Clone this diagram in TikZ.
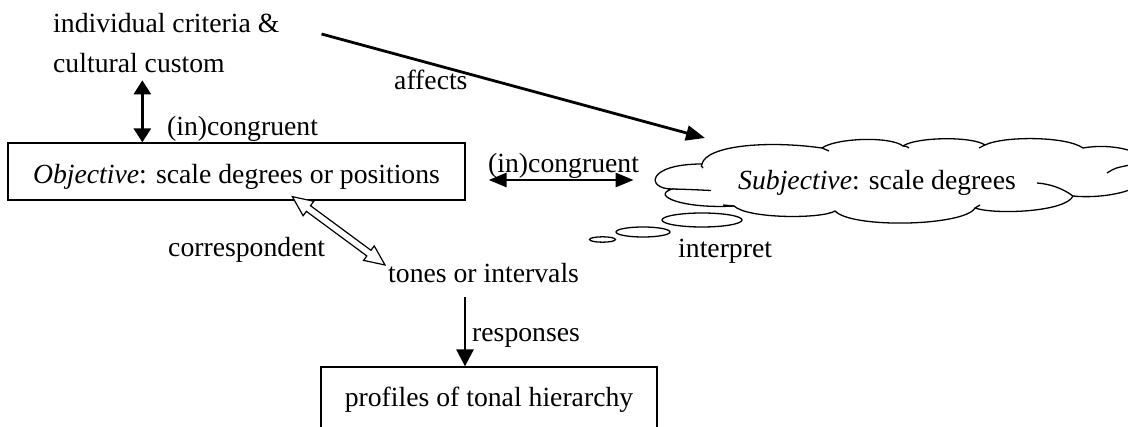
\documentclass[tikz,border=0pt]{standalone}
\usepackage{fontspec}
\setmainfont{Liberation Serif}
\usetikzlibrary{arrows.meta,calc}
\begin{document}
\begin{tikzpicture}[x=1pt,y=-1pt,
  lbl/.style={inner sep=0pt, anchor=base west, font=\fontsize{27.7}{33}\selectfont},
  boxn/.style={draw, line width=1.3pt, inner sep=0pt, font=\fontsize{27.7}{33}\selectfont},
  arr/.style={line width=2.8pt, -{Triangle[length=17pt,width=17pt]}},
  darrv/.style={line width=2.8pt, {Triangle[length=14pt,width=17pt]}-{Triangle[length=14pt,width=17pt]}},
  darrh/.style={line width=2.8pt, {Triangle[length=18pt,width=14pt]}-{Triangle[length=18pt,width=14pt]}},
  affarr/.style={line width=2.8pt, -{Triangle[length=19pt,width=15pt]}},
  hollow/.style={draw, line width=1.2pt, fill=white, line join=miter},
  cloudline/.style={line width=1.3pt},
  bubble/.style={draw, line width=1.3pt, fill=white},
]
\useasboundingbox (0,0) rectangle (1128,427);
\clip (0,0) rectangle (1128,427);

% texts and boxes
\node[lbl] (crit1) at (53,33) {individual criteria \&};
\node[lbl] (crit2) at (53,73) {cultural custom};
\node[boxn, minimum width=457pt, minimum height=57pt, text height=27pt, text depth=2pt] (obj) at (236.5,171.5) {\textit{Objective}: scale degrees or positions};
\node[lbl] (lcong1) at (167,136) {(in)congruent};
\node[lbl] (laff) at (394,90) {affects};
\node[lbl] (lcorr) at (168,257) {correspondent};
\node[lbl] (tones) at (388,283) {tones or intervals};
\node[lbl] (lresp) at (472,342) {responses};
\node[boxn, minimum width=336pt, minimum height=80pt, text height=10pt, text depth=10pt] (prof) at (489,407) {profiles of tonal hierarchy};
\node[lbl] (linterp) at (678,258) {interpret};

% cloud
\draw[cloudline, fill=white] (672,189) .. controls (646,189) and (646,164) .. (702,164)
  .. controls (706,146) and (765,140) .. (822,148)
  .. controls (836,138) and (890,136) .. (903,146)
  .. controls (916,137) and (972,136) .. (985,145)
  .. controls (1003,136) and (1066,136) .. (1083,148)
  .. controls (1110,143) and (1150,150) .. (1150,170)
  .. controls (1150,192) and (1100,199) .. (1073,196)
  .. controls (1066,212) and (995,215) .. (975,208)
  .. controls (965,226) and (852,229) .. (835,211)
  .. controls (822,219) and (748,219) .. (734,206)
  .. controls (684,209) and (650,196) .. (672,189) -- cycle;
\coordinate (cloudtip) at (705,138);
% creases
\draw[cloudline] (672,189) .. controls (690,189.5) .. (711,190.5);
\draw[cloudline] (702,164) .. controls (701,166) .. (703,168);
\draw[cloudline] (822,148) .. controls (826,149) .. (829,151);
\draw[cloudline] (903,146) .. controls (906,146) .. (909,148);
\draw[cloudline] (985,145) .. controls (982,146) .. (979,148);
\draw[cloudline] (1107,173) .. controls (1115,168) .. (1130,165);
\draw[cloudline] (1073,196) .. controls (1062,188) and (1050,184) .. (1037,183);
\draw[cloudline] (975,208) .. controls (977,206) .. (980,205);
\draw[cloudline] (734,206) .. controls (729,205) .. (723,205);
\node[lbl] (subj) at (738,190) {\textit{Subjective}: scale degrees};

% thought bubbles
\draw[bubble] (702,220) ellipse [x radius=40, y radius=7];
\draw[bubble] (643,232) ellipse [x radius=27, y radius=5];
\draw[bubble] (602.5,239.5) ellipse [x radius=13, y radius=2.7];

% middle label over arrow
\node[lbl] (lcong2) at (488,173) {(in)congruent};

% connectors
\draw[darrv] ($(obj.north west)+(135,-62)$) -- ($(obj.north west)+(135,0)$);
\draw[darrh] ($(obj.east)+(23,8.5)$) -- ($(obj.east)+(168,8.5)$);
\draw[affarr] ($(crit1.base east)+(42,1)$) -- (cloudtip);
\coordinate (dn) at ($(tones.base west)+(77,14)$);
\draw[arr] (dn) -- (dn |- prof.north);

% hollow double arrow
\coordinate (hA) at ($(obj.south west)+(285,-4)$);
\coordinate (hB) at ($(tones.base west)+(-3,-18)$);
\coordinate (hA1) at ($(hA)!20pt!(hB)$);
\coordinate (hB1) at ($(hB)!20pt!(hA)$);
\path[hollow] (hA) -- ($(hA1)!9pt!-90:(hB)$) -- ($(hA1)!3.5pt!-90:(hB)$)
  -- ($(hB1)!3.5pt!90:(hA)$) -- ($(hB1)!9pt!90:(hA)$) -- (hB)
  -- ($(hB1)!9pt!-90:(hA)$) -- ($(hB1)!3.5pt!-90:(hA)$)
  -- ($(hA1)!3.5pt!90:(hB)$) -- ($(hA1)!9pt!90:(hB)$) -- cycle;
\end{tikzpicture}
\end{document}
